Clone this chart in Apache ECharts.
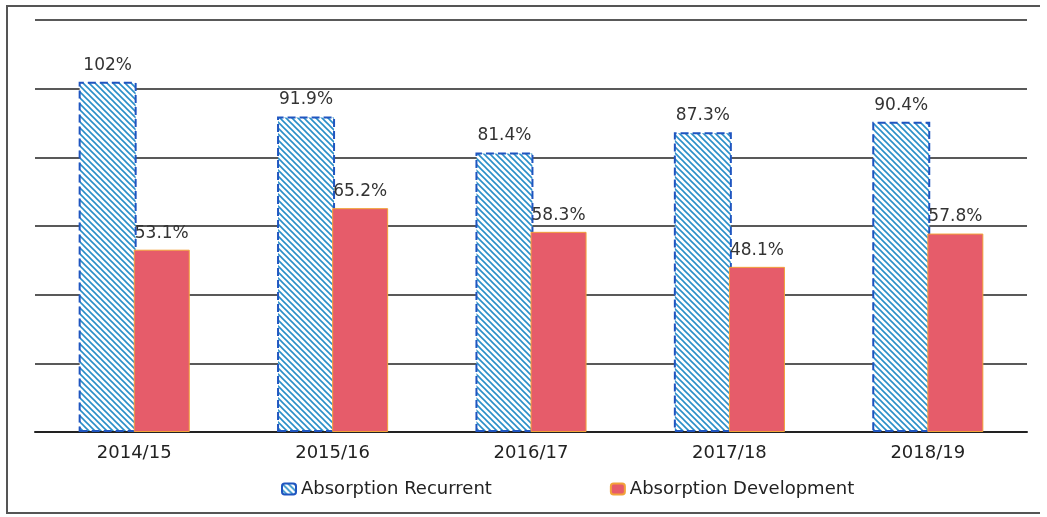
<!DOCTYPE html>
<html>
<head>
<meta charset="utf-8">
<script src="https://cdn.jsdelivr.net/npm/echarts@6/dist/echarts.min.js"></script>
<style>
	html, body { margin: 0; padding: 0; background: #fff; }
	#chart { width: 1047px; height: 517px; }
</style>
</head>
<body>
<div id="chart"></div>
<script>
var years = ['2014/15', '2015/16', '2016/17', '2017/18', '2018/19'];
var recurrent = [102, 91.9, 81.4, 87.3, 90.4];
var development = [53.1, 65.2, 58.3, 48.1, 57.8];
var seriesNames = ['Absorption Recurrent', 'Absorption Development'];

// hatch fill for the recurrent bars
function makeHatch() {
	var c = document.createElement('canvas');
	c.width = 6;
	c.height = 6;
	var ctx = c.getContext('2d');
	ctx.fillStyle = '#ffffff';
	ctx.fillRect(0, 0, 6, 6);
	ctx.strokeStyle = '#2a8fc8';
	ctx.lineWidth = 1.6;
	ctx.beginPath();
	ctx.moveTo(0, 0); ctx.lineTo(6, 6);
	ctx.moveTo(-3, 3); ctx.lineTo(3, 9);
	ctx.moveTo(3, -3); ctx.lineTo(9, 3);
	ctx.stroke();
	return c;
}

var myChart = echarts.init(document.getElementById('chart'));
myChart.setOption({
	animation: false,
	textStyle: { fontFamily: 'DejaVu Sans' },
	graphic: [{
		type: 'polyline',
		shape: { points: [[1040, 6], [7, 6], [7, 513], [1040, 513]] },
		style: { stroke: '#555', lineWidth: 2, fill: null }
	}],
	grid: { left: 35, right: 20, top: 20, bottom: 85 },
	legend: {
		bottom: 14,
		left: 276,
		itemGap: 118,
		itemWidth: 14,
		itemHeight: 11,
		textStyle: { fontSize: 18, color: '#222', fontFamily: 'DejaVu Sans' },
		data: seriesNames
	},
	xAxis: {
		type: 'category',
		data: years,
		axisLine: { lineStyle: { color: '#222', width: 2 } },
		axisTick: { show: false },
		axisLabel: { fontSize: 18, color: '#222', margin: 12 }
	},
	yAxis: {
		type: 'value',
		min: 0,
		max: 120,
		interval: 20,
		axisLabel: { show: false },
		axisLine: { show: false },
		axisTick: { show: false },
		splitLine: { lineStyle: { color: '#222', width: 1.5 } }
	},
	series: [{
		name: seriesNames[0],
		type: 'bar',
		data: recurrent,
		barWidth: 58,
		barGap: '-5%',
		itemStyle: {
			color: { image: makeHatch(), repeat: 'repeat' },
			borderColor: '#1f55c0',
			borderWidth: 2,
			borderType: 'dashed'
		},
		label: {
			show: true,
			position: 'top',
			distance: 8,
			fontSize: 17,
			color: '#333',
			formatter: '{c}%'
		}
	}, {
		name: seriesNames[1],
		type: 'bar',
		data: development,
		barWidth: 56,
		itemStyle: {
			color: '#e65c6a',
			borderColor: '#f2a23a',
			borderWidth: 1
		},
		label: {
			show: true,
			position: 'top',
			distance: 8,
			fontSize: 17,
			color: '#333',
			formatter: '{c}%'
		}
	}]
});
</script>
</body>
</html>
